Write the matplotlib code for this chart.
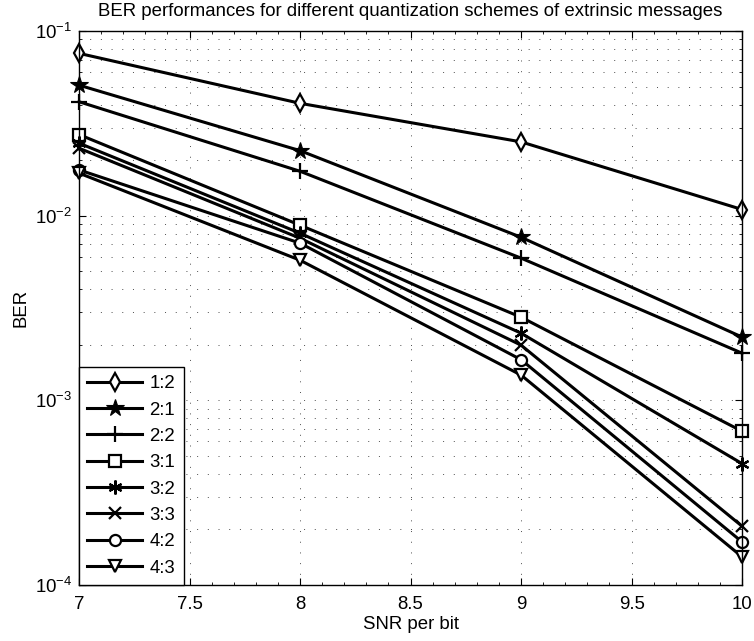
import numpy as np
import matplotlib.pyplot as plt
from matplotlib.ticker import LogLocator, MultipleLocator, NullFormatter

plt.rcParams['font.family'] = ['Liberation Sans', 'DejaVu Sans']
plt.rcParams['mathtext.fontset'] = 'custom'
plt.rcParams['mathtext.rm'] = 'Liberation Sans'
plt.rcParams['mathtext.it'] = 'Liberation Sans:italic'

snr = [7, 8, 9, 10]
labels = ['1:2', '2:1', '2:2', '3:1', '3:2', '3:3', '4:2', '4:3']
ber_12 = [0.0757, 0.0406, 0.0251, 0.0108]
ber_21 = [0.0509, 0.0225, 0.00764, 0.0022]
ber_22 = [0.0414, 0.0174, 0.00589, 0.0018]
ber_31 = [0.0275, 0.00888, 0.00282, 0.00068]
ber_32 = [0.0247, 0.00804, 0.00231, 0.000454]
ber_33 = [0.0232, 0.00755, 0.00199, 0.000208]
ber_42 = [0.0177, 0.0071, 0.00166, 0.000171]
ber_43 = [0.0170, 0.00574, 0.00137, 0.000142]

series = [ber_12, ber_21, ber_22, ber_31, ber_32, ber_33, ber_42, ber_43]
markers = ['d', '*', '+', 's', (6, 2, 0), 'x', 'o', 'v']
msizes = [9, 13, 12, 8, 10, 8, 8, 9]

fig = plt.figure(figsize=(7.54, 6.41), dpi=100)
ax = fig.add_axes([0.1048, 0.0874, 0.8794, 0.8642])

for y, lab, m, ms in zip(series, labels, markers, msizes):
    hollow = m in ('d', 's', 'o', 'v')
    ax.semilogy(snr, y, color='black', linewidth=2.2, marker=m, markersize=ms,
                markerfacecolor='white' if hollow else 'black',
                markeredgecolor='black', markeredgewidth=0.8 if m == '*' else 1.6,
                label=lab, clip_on=False)

ax.set_xlim(7, 10)
ax.set_ylim(1e-4, 1e-1)
ax.xaxis.set_major_locator(MultipleLocator(0.5))
ax.xaxis.set_minor_locator(MultipleLocator(0.1))
ax.xaxis.set_major_formatter(plt.FuncFormatter(lambda v, p: ('%g' % v)))
ax.yaxis.set_major_locator(LogLocator(base=10, numticks=10))
ax.yaxis.set_minor_locator(LogLocator(base=10, subs=np.arange(2, 10), numticks=20))
ax.yaxis.set_minor_formatter(NullFormatter())

ax.tick_params(which='both', direction='in', top=True, right=True, labelsize=13.4)
ax.tick_params(which='major', length=5, pad=5)
ax.tick_params(axis='x', which='major', pad=8)
ax.tick_params(which='minor', length=2.5)
ax.grid(True, which='major', linestyle=(0, (1, 10)), color='0.3', linewidth=0.7)
ax.grid(True, which='minor', axis='y', linestyle=(0, (1, 10)), color='0.3', linewidth=0.7)
for s in ax.spines.values():
    s.set_linewidth(1.0)

ax.set_title('BER performances for different quantization schemes of extrinsic messages',
             fontsize=13.4, pad=11)
ax.set_xlabel('SNR per bit', fontsize=13.4, labelpad=2)
ax.set_ylabel('BER', fontsize=13.4, labelpad=4)

leg = ax.legend(loc='lower left', fontsize=13.4, fancybox=False, framealpha=1,
                edgecolor='black', borderaxespad=0, handlelength=2.95,
                labelspacing=0.5, borderpad=0.45, handletextpad=0.38)
leg.get_frame().set_linewidth(1.0)

fig.savefig('out.png', dpi=100)
